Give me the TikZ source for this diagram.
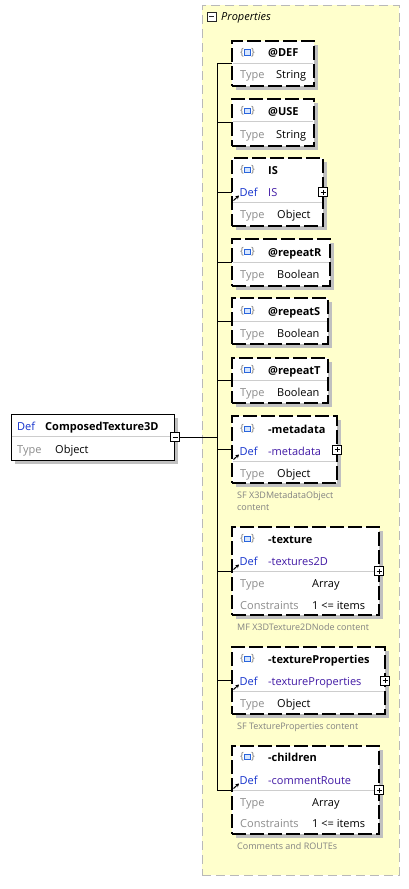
\documentclass[tikz,border=0pt]{standalone}
\usepackage{fontspec}
\setmainfont{Open Sans}
\usetikzlibrary{arrows.meta}
\definecolor{shadowc}{RGB}{192,192,192}
\definecolor{divc}{RGB}{205,205,205}
\definecolor{defc}{RGB}{20,50,205}
\definecolor{valc}{RGB}{65,25,165}
\definecolor{typec}{RGB}{140,140,140}
\definecolor{capc}{RGB}{130,130,130}
\definecolor{contf}{RGB}{255,255,204}
\definecolor{contb}{RGB}{185,185,185}
\definecolor{iconb}{RGB}{40,100,220}
\definecolor{iconf}{RGB}{215,230,255}
\definecolor{bracec}{RGB}{120,120,120}
\newcommand\kidbox[4]{%
  \fill[shadowc] (236,#2+4) rectangle ++(#3,#4);
  \node[kid, minimum width=#3pt, minimum height=#4pt] (#1) at (232,#2) {};
}
\newcommand\elicon[2]{%
  \node[anchor=center, text=bracec, inner sep=0pt, font=\fontsize{10}{10}\selectfont] (#1bl) at (242,#2) {\{};
  \node[draw=iconb, fill=iconf, line width=1.2pt, minimum size=5.5pt, inner sep=0pt] (#1sq) at (247.5,#2) {};
  \node[anchor=center, text=bracec, inner sep=0pt, font=\fontsize{10}{10}\selectfont] (#1br) at (253,#2) {\}};
}
\newcommand\refarrow[2]{%
  \coordinate (#1a) at (233.5,#2+8.5);
  \coordinate (#1b) at (239,#2+3.5);
  \draw[line width=1pt, -{Stealth[length=3.5pt,width=4pt]}] (#1a) -- (#1b);
}
\begin{document}
\begin{tikzpicture}[x=1pt,y=-1pt, font=\fontsize{11}{13}\selectfont,
  kid/.style={draw=black, line width=1.5pt, dash pattern=on 14pt off 4pt, fill=white, anchor=north west, inner sep=0pt, outer sep=0pt, rectangle},
  rootbox/.style={draw=black, line width=1pt, fill=white, anchor=north west, inner sep=0pt, outer sep=0pt, rectangle},
  divline/.style={draw=divc, line width=1pt},
  lbl/.style={anchor=base west, inner sep=0pt},
  deflbl/.style={lbl, text=defc},
  defval/.style={lbl, text=valc},
  typelbl/.style={lbl, text=typec},
  txt/.style={lbl, text=black},
  captxt/.style={lbl, text=capc, font=\fontsize{9}{11}\selectfont},
  ttl/.style={lbl, font=\fontsize{11}{13}\selectfont\bfseries},
  pmbox/.style={draw=black, line width=0.8pt, fill=white, minimum size=9pt, inner sep=0pt, outer sep=0pt, rectangle},
  plusbox/.style={pmbox, path picture={\draw[line width=0.8pt] ([xshift=2pt]path picture bounding box.west) -- ([xshift=-2pt]path picture bounding box.east) ([yshift=-2pt]path picture bounding box.north) -- ([yshift=2pt]path picture bounding box.south);}},
  minusbox/.style={pmbox, path picture={\draw[line width=0.8pt] ([xshift=2pt]path picture bounding box.west) -- ([xshift=-2pt]path picture bounding box.east);}},
  wire/.style={draw=black, line width=1pt},
]
\useasboundingbox (0,0) rectangle (409,889);
\fill[white] (0,0) rectangle (409,889);

% container
\node[draw=contb, fill=contf, line width=1pt, dash pattern=on 9pt off 5pt, anchor=north west, minimum width=197pt, minimum height=870pt, inner sep=0pt, outer sep=0pt] (props) at (202,5) {};
\node[minusbox, draw=black!85] (propsminus) at (211.5,16.5) {};
\node[lbl, font=\fontsize{11}{13}\selectfont\itshape] (propstitle) at (221,20.5) {Properties};

% root
\fill[shadowc] (15,418) rectangle (178,464);
\node[rootbox, minimum width=163pt, minimum height=46pt] (root) at (11,414) {};
\draw[divline] (11.5,436) -- (173.5,436);
\node[deflbl] (rootdef) at (17,430) {Def};
\node[ttl] (rootname) at (45,430) {ComposedTexture3D};
\node[typelbl] (roottype) at (17,453) {Type};
\node[txt] (roottypev) at (55,453) {Object};
\node[minusbox] (rootminus) at (175,437) {};

% bus
\coordinate (bustop) at (217,63.5);
\coordinate (busbot) at (217,790);

% @DEF
\kidbox{def}{41}{82}{45}
\draw[divline] (233,63) -- (313,63);
\elicon{def}{52.5}
\node[ttl] (deft) at (268,56.5) {@DEF};
\node[typelbl] (defty) at (240,78.5) {Type};
\node[txt] (deftv) at (276,78.5) {String};

% @USE
\kidbox{use}{99}{82}{47}
\draw[divline] (233,121) -- (313,121);
\elicon{use}{111}
\node[ttl] (uset) at (268,115) {@USE};
\node[typelbl] (usety) at (240,138) {Type};
\node[txt] (usetv) at (276,138) {String};

% IS
\kidbox{is}{158}{91}{68}
\draw[divline] (233,202) -- (322,202);
\elicon{is}{170}
\node[ttl] (ist) at (268,174) {IS};
\node[deflbl] (isd) at (239.5,196) {Def};
\node[defval] (isdv) at (268,196) {IS};
\refarrow{isarr}{192}
\node[typelbl] (isty) at (240,218.5) {Type};
\node[txt] (istv) at (277,218.5) {Object};
\node[plusbox] (isplus) at (is.east) {};

% @repeatR
\kidbox{rr}{239}{98}{47}
\draw[divline] (233,262) -- (329,262);
\elicon{rr}{252}
\node[ttl] (rrt) at (268,256) {@repeatR};
\node[typelbl] (rrty) at (240,278) {Type};
\node[txt] (rrtv) at (277,278) {Boolean};

% @repeatS
\kidbox{rs}{298}{96}{46}
\draw[divline] (233,321) -- (327,321);
\elicon{rs}{311}
\node[ttl] (rst) at (268,315) {@repeatS};
\node[typelbl] (rsty) at (240,337) {Type};
\node[txt] (rstv) at (277,337) {Boolean};

% @repeatT
\kidbox{rt}{358}{96}{45}
\draw[divline] (233,380) -- (327,380);
\elicon{rt}{370}
\node[ttl] (rtt) at (268,374) {@repeatT};
\node[typelbl] (rtty) at (240,396) {Type};
\node[txt] (rttv) at (277,396) {Boolean};

% -metadata
\kidbox{md}{416}{105}{67}
\draw[divline] (233,461) -- (336,461);
\elicon{md}{429}
\node[ttl] (mdt) at (268,433) {-metadata};
\node[deflbl] (mdd) at (239.5,455) {Def};
\node[defval] (mddv) at (268,455) {-metadata};
\refarrow{mdarr}{451}
\node[typelbl] (mdty) at (240,477) {Type};
\node[txt] (mdtv) at (277,477) {Object};
\node[plusbox] (mdplus) at (md.east) {};
\node[captxt] (mdc1) at (237,498) {SF X3DMetadataObject};
\node[captxt] (mdc2) at (237,510) {content};

% -texture
\kidbox{tx}{527}{147}{88}
\draw[divline] (233,571) -- (378,571);
\elicon{tx}{539}
\node[ttl] (txt1) at (268,543) {-texture};
\node[deflbl] (txd) at (239.5,565) {Def};
\node[defval] (txdv) at (268,565) {-textures2D};
\refarrow{txarr}{561}
\node[typelbl] (txty) at (240,587) {Type};
\node[txt] (txtv) at (312,587) {Array};
\node[typelbl] (txco) at (240,609) {Constraints};
\node[txt] (txcov) at (312,609) {1 <= items};
\node[plusbox] (txplus) at (tx.east) {};
\node[captxt] (txc1) at (237,630) {MF X3DTexture2DNode content};

% -textureProperties
\kidbox{tp}{647}{153}{67}
\draw[divline] (233,691) -- (384,691);
\elicon{tp}{659}
\node[ttl] (tpt) at (268,663) {-textureProperties};
\node[deflbl] (tpd) at (239.5,685) {Def};
\node[defval] (tpdv) at (268,685) {-textureProperties};
\refarrow{tparr}{681}
\node[typelbl] (tpty) at (240,707) {Type};
\node[txt] (tptv) at (277,707) {Object};
\node[plusbox] (tpplus) at (tp.east) {};
\node[captxt] (tpc1) at (237,729) {SF TextureProperties content};

% -children
\kidbox{ch}{746}{147}{88}
\draw[divline] (233,790) -- (378,790);
\elicon{ch}{757}
\node[ttl] (cht) at (268,761) {-children};
\node[deflbl] (chd) at (239.5,784) {Def};
\node[defval] (chdv) at (268,784) {-commentRoute};
\refarrow{charr}{780}
\node[typelbl] (chty) at (240,806) {Type};
\node[txt] (chtv) at (312,806) {Array};
\node[typelbl] (chco) at (240,827) {Constraints};
\node[txt] (chcov) at (312,827) {1 <= items};
\node[plusbox] (chplus) at (ch.east) {};
\node[captxt] (chc1) at (237,849) {Comments and ROUTEs};

% connectors
\draw[wire] (bustop) -- (busbot);
\draw[wire] (rootminus.east) -- (bustop |- rootminus.east);
\foreach \k in {def,use,is,rr,rs,rt,md,tx,tp,ch}{
  \draw[wire] (bustop |- \k.west) -- (\k.west);
}
\end{tikzpicture}
\end{document}
